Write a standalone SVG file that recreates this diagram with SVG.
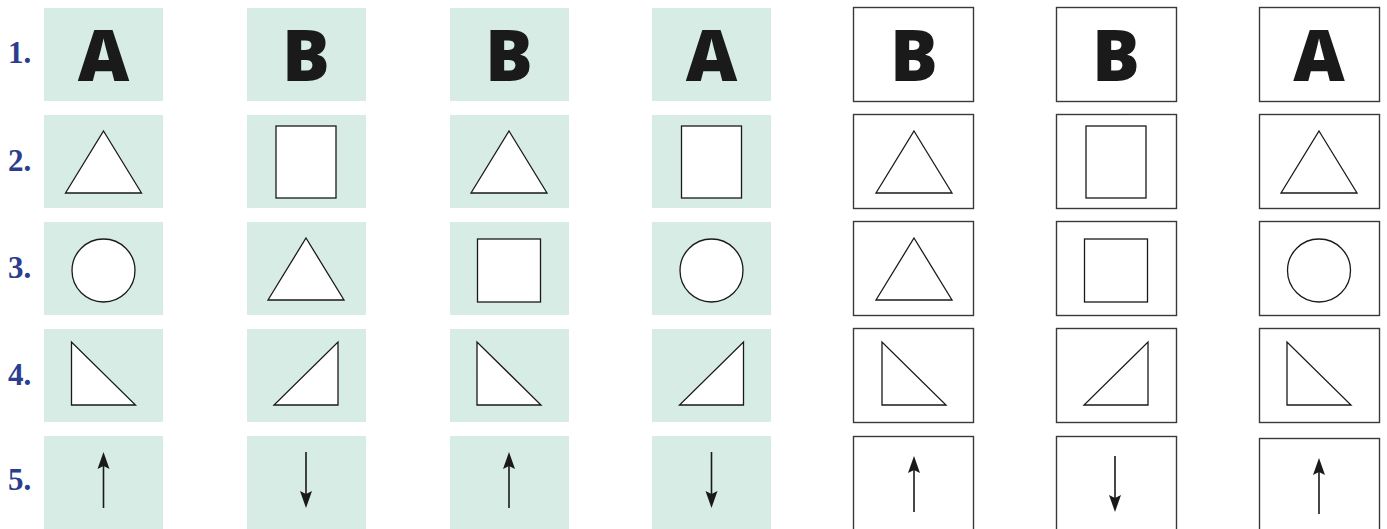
<svg xmlns="http://www.w3.org/2000/svg" xmlns:xlink="http://www.w3.org/1999/xlink" width="1387" height="529" viewBox="0 0 1387 529">
<style>
.lbl{font-family:"Liberation Serif","Times New Roman",serif;font-weight:bold;font-size:31px;fill:#2b3d8e}
.let{font-family:"Open Sans","Liberation Sans",sans-serif;font-weight:800;font-size:71px;fill:#1a1a1a;text-anchor:middle}
.fill{fill:#d7ece5}
.box{fill:#fff;stroke:#3a3a3a;stroke-width:1.4}
.sh{fill:#fff;stroke:#1a1a1a;stroke-width:1.3}
.ar{stroke:#1a1a1a;stroke-width:1.6;fill:none}
.ah{fill:#1a1a1a}
</style>
<defs>
<polygon id="tri" class="sh" points="0,-31 38,31 -38,31"/>
<rect id="rct" class="sh" x="-30" y="-36" width="60" height="72"/>
<circle id="cir" class="sh" r="31.5"/>
<rect id="sq" class="sh" x="-31.5" y="-31.5" width="63" height="63"/>
<polygon id="rtl" class="sh" points="-32,-31.5 -32,31.5 32,31.5"/>
<polygon id="rtr" class="sh" points="32,-31.5 32,31.5 -32,31.5"/>
<g id="up"><line class="ar" x1="0" y1="28" x2="0" y2="-20"/><path class="ah" d="M0,-28 L6,-11 L0,-14 L-6,-11 Z"/></g>
<g id="dn"><line class="ar" x1="0" y1="-28" x2="0" y2="20"/><path class="ah" d="M0,28 L6,11 L0,14 L-6,11 Z"/></g>
</defs>
<g id="labels">
<text class="lbl" x="8" y="63">1.</text>
<text class="lbl" x="8" y="171">2.</text>
<text class="lbl" x="8" y="278">3.</text>
<text class="lbl" x="8" y="385">4.</text>
<text class="lbl" x="8" y="490">5.</text>
</g>
<g id="c1">
<rect class="fill" x="44" y="8" width="119" height="93"/><text class="let" x="103.5" y="81">A</text>
<rect class="fill" x="44" y="115" width="119" height="93"/><use href="#tri" x="103.5" y="162"/>
<rect class="fill" x="44" y="222" width="119" height="93"/><use href="#cir" x="103.5" y="270.5"/>
<rect class="fill" x="44" y="329" width="119" height="93"/><use href="#rtl" x="103.5" y="373.5"/>
<rect class="fill" x="44" y="436" width="119" height="93"/><use href="#up" x="103.5" y="480"/>
</g>
<g id="c2">
<rect class="fill" x="247" y="8" width="119" height="93"/><text class="let" x="306" y="81">B</text>
<rect class="fill" x="247" y="115" width="119" height="93"/><use href="#rct" x="306" y="162"/>
<rect class="fill" x="247" y="222" width="119" height="93"/><use href="#tri" x="306" y="269"/>
<rect class="fill" x="247" y="329" width="119" height="93"/><use href="#rtr" x="306" y="373.5"/>
<rect class="fill" x="247" y="436" width="119" height="93"/><use href="#dn" x="306" y="480"/>
</g>
<g id="c3">
<rect class="fill" x="450" y="8" width="119" height="93"/><text class="let" x="509" y="81">B</text>
<rect class="fill" x="450" y="115" width="119" height="93"/><use href="#tri" x="509" y="162"/>
<rect class="fill" x="450" y="222" width="119" height="93"/><use href="#sq" x="509" y="270.5"/>
<rect class="fill" x="450" y="329" width="119" height="93"/><use href="#rtl" x="509" y="373.5"/>
<rect class="fill" x="450" y="436" width="119" height="93"/><use href="#up" x="509" y="480"/>
</g>
<g id="c4">
<rect class="fill" x="652" y="8" width="119" height="93"/><text class="let" x="711.5" y="81">A</text>
<rect class="fill" x="652" y="115" width="119" height="93"/><use href="#rct" x="711.5" y="162"/>
<rect class="fill" x="652" y="222" width="119" height="93"/><use href="#cir" x="711.5" y="270.5"/>
<rect class="fill" x="652" y="329" width="119" height="93"/><use href="#rtr" x="711.5" y="373.5"/>
<rect class="fill" x="652" y="436" width="119" height="93"/><use href="#dn" x="711.5" y="480"/>
</g>
<g id="c5">
<rect class="box" x="853.5" y="7.5" width="120" height="94"/><text class="let" x="914" y="81">B</text>
<rect class="box" x="853.5" y="114.5" width="120" height="94"/><use href="#tri" x="914" y="162"/>
<rect class="box" x="853.5" y="221.5" width="120" height="94"/><use href="#tri" x="914" y="269"/>
<rect class="box" x="853.5" y="328.5" width="120" height="94"/><use href="#rtl" x="914" y="373.5"/>
<rect class="box" x="853.5" y="436.5" width="120" height="100"/><use href="#up" x="914" y="484"/>
</g>
<g id="c6">
<rect class="box" x="1056.5" y="7.5" width="120" height="94"/><text class="let" x="1116" y="81">B</text>
<rect class="box" x="1056.5" y="114.5" width="120" height="94"/><use href="#rct" x="1116" y="162"/>
<rect class="box" x="1056.5" y="221.5" width="120" height="94"/><use href="#sq" x="1116" y="270.5"/>
<rect class="box" x="1056.5" y="328.5" width="120" height="94"/><use href="#rtr" x="1116" y="373.5"/>
<rect class="box" x="1056.5" y="436.5" width="120" height="100"/><use href="#dn" x="1115" y="484"/>
</g>
<g id="c7">
<rect class="box" x="1259.5" y="7.5" width="120" height="94"/><text class="let" x="1319" y="81">A</text>
<rect class="box" x="1259.5" y="114.5" width="120" height="94"/><use href="#tri" x="1319" y="162"/>
<rect class="box" x="1259.5" y="221.5" width="120" height="94"/><use href="#cir" x="1319" y="270.5"/>
<rect class="box" x="1259.5" y="328.5" width="120" height="94"/><use href="#rtl" x="1319" y="373.5"/>
<rect class="box" x="1259.5" y="438.5" width="120" height="100"/><use href="#up" x="1319" y="486"/>
</g>
<g id="connectors"/>
</svg>
